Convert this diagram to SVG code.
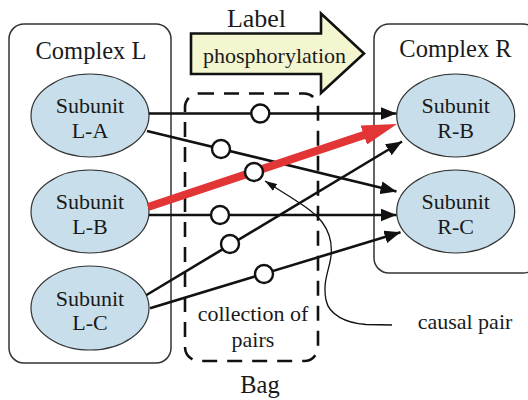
<svg xmlns="http://www.w3.org/2000/svg" width="528" height="400" viewBox="0 0 528 400" font-family="'Liberation Serif', 'Times New Roman', Times, serif">
  <style>
    text { font-family: 'Liberation Serif', 'Times New Roman', Times, serif; fill: #1a1a1a; text-anchor: middle; }
    .head { font-size: 24.5px; }
    .sub { font-size: 22px; }
    .complex { fill: #ffffff; stroke: #333333; stroke-width: 1.5; }
    .unit { fill: #c8dfeb; stroke: #333333; stroke-width: 1.2; }
    .bag { fill: none; stroke: #111111; stroke-width: 2.6; stroke-dasharray: 15 10; }
    .link { fill: none; stroke: #111111; stroke-width: 2.6; marker-end: url(#arrow); }
    .main { fill: none; stroke: #e23636; stroke-width: 8; marker-end: url(#arrowRed); }
    .pair { fill: #ffffff; stroke: #111111; stroke-width: 2.4; }
    .note { fill: none; stroke: #111111; stroke-width: 1.3; marker-end: url(#arrowThin); }
  </style>
  <defs>
    <marker id="arrow" markerUnits="userSpaceOnUse" markerWidth="16" markerHeight="13" refX="16" refY="6.5" orient="auto">
      <path d="M0,0 L16,6.5 L0,13 z" fill="#111111"/>
    </marker>
    <marker id="arrowRed" markerUnits="userSpaceOnUse" markerWidth="36" markerHeight="20" refX="7" refY="10" orient="auto">
      <path d="M0,0 L35,10 L0,20 z" fill="#e23636"/>
    </marker>
    <marker id="arrowThin" markerUnits="userSpaceOnUse" markerWidth="12" markerHeight="8" refX="12" refY="4" orient="auto">
      <path d="M0,0 L12,4 L0,8 z" fill="#111111"/>
    </marker>
  </defs>

  <!-- Complex L -->
  <g id="complex-l">
    <rect class="complex" x="9" y="24" width="162" height="339" rx="15"/>
    <text class="head" x="91" y="59">Complex L</text>
  </g>

  <!-- Complex R -->
  <g id="complex-r">
    <rect class="complex" x="374" y="24" width="164" height="249" rx="15"/>
    <text class="head" x="455.5" y="57">Complex R</text>
  </g>

  <g id="subunit-la">
    <ellipse class="unit" cx="90" cy="115.5" rx="59" ry="41.5"/>
    <text class="sub" x="90" y="113">Subunit</text>
    <text class="sub" x="90" y="138">L-A</text>
  </g>
  <g id="subunit-lb">
    <ellipse class="unit" cx="90" cy="211.5" rx="59" ry="41.5"/>
    <text class="sub" x="90" y="209">Subunit</text>
    <text class="sub" x="90" y="234">L-B</text>
  </g>
  <g id="subunit-lc">
    <ellipse class="unit" cx="90" cy="308" rx="59" ry="42"/>
    <text class="sub" x="90" y="306">Subunit</text>
    <text class="sub" x="90" y="330">L-C</text>
  </g>
  <g id="subunit-rb">
    <ellipse class="unit" cx="455.7" cy="115.5" rx="59" ry="41.5"/>
    <text class="sub" x="455.7" y="113">Subunit</text>
    <text class="sub" x="455.7" y="138">R-B</text>
  </g>
  <g id="subunit-rc">
    <ellipse class="unit" cx="455.7" cy="211.5" rx="59" ry="41.5"/>
    <text class="sub" x="455.7" y="209">Subunit</text>
    <text class="sub" x="455.7" y="234">R-C</text>
  </g>

  <!-- Bag of pairs -->
  <g id="bag">
    <rect class="bag" x="185" y="93.5" width="133" height="267.5" rx="14"/>
    <text class="sub" x="253" y="321">collection of</text>
    <text class="sub" x="253" y="347">pairs</text>
    <text class="head" x="260" y="393">Bag</text>
  </g>

  <!-- Label arrow -->
  <g id="label">
    <path d="M191,33.5 H321 V13.5 L364,53.5 L321,93 V74 H191 z" fill="#f3f6cf" stroke="#111111" stroke-width="2.6" stroke-linejoin="miter"/>
    <text class="head" x="256.5" y="27" style="font-size:26px">Label</text>
    <text class="sub" x="274.5" y="63">phosphorylation</text>
  </g>

  <!-- Connectors -->
  <g id="connectors">
    <line class="link" x1="149" y1="113.5" x2="396.5" y2="113.5"/>
    <line class="link" x1="147" y1="131" x2="396.5" y2="191.5"/>
    <line class="link" x1="149" y1="215" x2="396.5" y2="215"/>
    <line class="link" x1="146.5" y1="295" x2="402" y2="141.5"/>
    <line class="link" x1="150" y1="308.3" x2="400.5" y2="232.3"/>
    <line class="main" x1="148" y1="207" x2="370.4" y2="132.9"/>
    <path class="note" d="M392,325 L366,324.5 C346,323 329,315 326,300 C323,285 327,275 330,262 C333,248 331,234 322,222 C312,209 290,197 265,181"/>
    <circle class="pair" cx="260.3" cy="113.5" r="9"/>
    <circle class="pair" cx="221" cy="149" r="9"/>
    <circle class="pair" cx="254" cy="172" r="9"/>
    <circle class="pair" cx="220" cy="215" r="9"/>
    <circle class="pair" cx="230" cy="244" r="9"/>
    <circle class="pair" cx="264" cy="274" r="9"/>
  </g>

  <text class="sub" x="465" y="329" id="causal-pair">causal pair</text>
</svg>
